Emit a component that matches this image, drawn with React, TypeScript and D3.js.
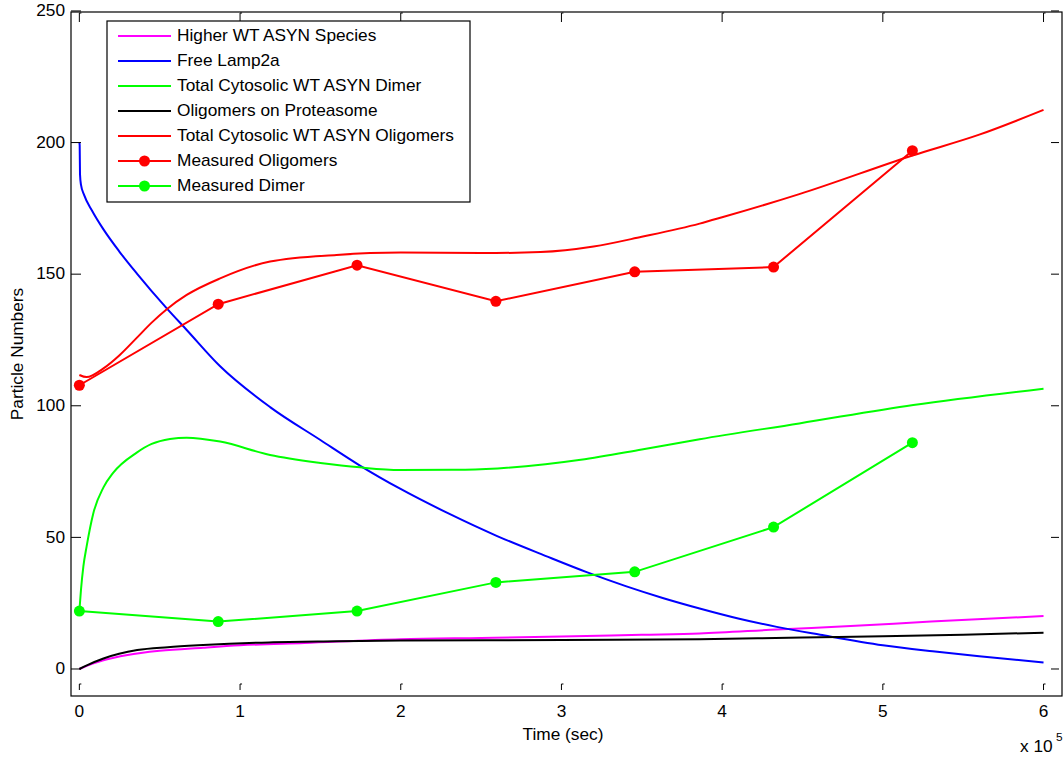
import React from "react";
import * as d3 from "d3";

// Time values are in units of 1e5 seconds (axis shows "x 10^5")
const higherT = [0, 0.05, 0.15, 0.3, 0.5, 0.77, 1.0, 1.4, 2.0, 2.5, 3.0, 3.5, 3.86, 4.34, 4.8, 5.3, 6.0];
const higherV = [0, 1.3, 3.3, 5.3, 6.9, 8.1, 9, 9.9, 11.3, 11.8, 12.3, 13, 13.5, 15, 16.3, 18, 20.1];

const lampT = [0, 0.002, 0.004, 0.01, 0.03, 0.08, 0.15, 0.25, 0.357, 0.544, 0.668, 0.876, 1.187, 1.5, 1.746, 1.996, 2.3, 2.6, 2.9, 3.157, 3.4, 3.63, 3.86, 4.1, 4.34, 4.61, 5.0, 5.31, 5.6, 6.0];
const lampV = [200, 199, 188, 184, 180, 174, 167, 158.5, 150.3, 137, 128.8, 115, 99.5, 87, 77.3, 68.5, 59, 50.5, 43, 36.8, 31.5, 27, 23, 19.2, 16, 13, 9, 6.7, 4.8, 2.5];

const dimerT = [0, 0.01, 0.025, 0.045, 0.087, 0.15, 0.21, 0.357, 0.45, 0.564, 0.668, 0.876, 1.187, 1.5, 1.746, 1.996, 2.4, 2.9, 3.12, 3.5, 3.86, 4.48, 5.19, 6.0];
const dimerV = [22, 30, 39, 46.5, 59.2, 69, 74.5, 82.2, 85.5, 87.4, 87.9, 86.4, 81.3, 78.3, 76.6, 75.6, 75.7, 77.8, 79.5, 83.4, 87.3, 93.3, 100.3, 106.5];

const protT = [0, 0.05, 0.15, 0.36, 0.55, 0.77, 1.18, 1.6, 2.0, 3.0, 3.86, 4.5, 5.0, 5.5, 6.0];
const protV = [0, 1.5, 4, 7.2, 8.3, 9.1, 10.1, 10.5, 10.8, 11.0, 11.3, 12, 12.4, 13, 13.8];

const oligoT = [0, 0.045, 0.15, 0.25, 0.357, 0.45, 0.544, 0.668, 0.876, 1.187, 1.6, 2.0, 2.5, 2.87, 3.2, 3.5, 3.86, 4.0, 4.48, 5.19, 5.6, 6.0];
const oligoV = [111.7, 110.9, 114.2, 119.2, 125.8, 131.6, 136.7, 142.1, 148.4, 154.8, 157.3, 158.2, 158, 158.4, 160.5, 164.2, 169.2, 171.6, 180.4, 195.2, 203, 212.4];

const measuredT = [0, 0.864, 1.728, 2.592, 3.456, 4.32, 5.184];
const measuredOligoV = [107.8, 138.6, 153.4, 139.7, 150.9, 152.7, 196.9];
const measuredDimerV = [22, 18, 22, 32.9, 36.9, 53.9, 86];

const xTicks = [0, 1, 2, 3, 4, 5, 6];
const yTicks = [0, 50, 100, 150, 200, 250];

const legendLabels = [
  "Higher WT ASYN Species",
  "Free Lamp2a",
  "Total Cytosolic WT ASYN Dimer",
  "Oligomers on Proteasome",
  "Total Cytosolic WT ASYN Oligomers",
  "Measured Oligomers",
  "Measured Dimer",
];

const W = 1064;
const H = 758;
const L = 71, R = 1062, T = 12, B = 696;
const SX = 1.08;

function Txt(props: { x: number; y: number; anchor?: string; size?: number; rotate?: number; baseline?: string; children: React.ReactNode }) {
  const { x, y, anchor = "start", size = 16, rotate = 0, baseline = "central", children } = props;
  return (
    <text
      transform={`translate(${x},${y}) rotate(${rotate}) scale(${SX},1)`}
      textAnchor={anchor}
      dominantBaseline={baseline}
      fontSize={size}
    >
      {children}
    </text>
  );
}

export default function App() {
  const x = d3.scaleLinear().domain([-0.052, 6.115]).range([L, R]);
  const y = d3.scaleLinear().domain([-10.26, 249.6]).range([B, T]);

  const zip = (ts: number[], vs: number[]) => ts.map((t, i) => [t, vs[i]] as [number, number]);
  const smooth = d3.line<[number, number]>().x(d => x(d[0])).y(d => y(d[1])).curve(d3.curveMonotoneX);
  const straight = d3.line<[number, number]>().x(d => x(d[0])).y(d => y(d[1]));

  const series = [
    { data: zip(higherT, higherV), color: "#ff00ff" },
    { data: zip(lampT, lampV), color: "#0000ff" },
    { data: zip(dimerT, dimerV), color: "#00ff00" },
    { data: zip(protT, protV), color: "#000000" },
    { data: zip(oligoT, oligoV), color: "#ff0000" },
  ];
  const measured = [
    { data: zip(measuredT, measuredOligoV), color: "#ff0000" },
    { data: zip(measuredT, measuredDimerV), color: "#00ff00" },
  ];
  const legendColors = ["#ff00ff", "#0000ff", "#00ff00", "#000000", "#ff0000", "#ff0000", "#00ff00"];

  const font = "Arial, 'Liberation Sans', Helvetica, sans-serif";

  return (
    <svg width={W} height={H} style={{ position: "absolute", left: 0, top: 0, background: "#fff" }} fontFamily={font}>
      <defs>
        <clipPath id="plotclip">
          <rect x={L} y={T} width={R - L} height={B - T} />
        </clipPath>
      </defs>
      <rect x={0} y={0} width={W} height={H} fill="#fff" />
      <g clipPath="url(#plotclip)">
        {series.map((s, i) => (
          <path key={i} d={smooth(s.data) || ""} fill="none" stroke={s.color} strokeWidth={2} />
        ))}
        {measured.map((s, i) => (
          <g key={i}>
            <path d={straight(s.data) || ""} fill="none" stroke={s.color} strokeWidth={2} />
            {s.data.map((d, j) => (
              <circle key={j} cx={x(d[0])} cy={y(d[1])} r={5.5} fill={s.color} />
            ))}
          </g>
        ))}
      </g>
      {/* frame */}
      <rect x={L} y={T} width={R - L} height={B - T} fill="none" stroke="#000" strokeWidth={1.2} />
      {/* y ticks */}
      {yTicks.map(v => (
        <g key={v}>
          <line x1={L} x2={L + 10} y1={y(v)} y2={y(v)} stroke="#000" strokeWidth={1} />
          <line x1={R - 11} x2={R - 3} y1={y(v)} y2={y(v)} stroke="#000" strokeWidth={1} />
          <Txt x={65} y={y(v)} anchor="end">{v}</Txt>
        </g>
      ))}
      {/* x ticks */}
      {xTicks.map(v => (
        <g key={v}>
          <path d={`M${x(v)},${B - 6}V${B - 12}H${x(v) + 2}`} fill="none" stroke="#000" strokeWidth={1} />
          <path d={`M${x(v)},${T + 10}V${T + 1}H${x(v) + 2}`} fill="none" stroke="#000" strokeWidth={1} />
          <Txt x={x(v)} y={712} anchor="middle">{v}</Txt>
        </g>
      ))}
      <Txt x={563} y={735} anchor="middle">Time (sec)</Txt>
      <Txt x={1020} y={752} baseline="auto">x 10</Txt>
      <Txt x={1056} y={741} size={11} baseline="auto">5</Txt>
      <Txt x={23} y={(T + B) / 2} anchor="middle" rotate={-90} baseline="auto">Particle Numbers</Txt>
      {/* legend */}
      <rect x={107} y={21} width={363} height={181} fill="#fff" stroke="#000" strokeWidth={1.2} />
      {legendLabels.map((lab, i) => {
        const ly = 36 + i * 25;
        return (
          <g key={lab}>
            <line x1={118} x2={171} y1={ly} y2={ly} stroke={legendColors[i]} strokeWidth={2} />
            {i >= 5 && <circle cx={144.5} cy={ly} r={5.5} fill={legendColors[i]} />}
            <Txt x={177} y={ly}>{lab}</Txt>
          </g>
        );
      })}
    </svg>
  );
}
